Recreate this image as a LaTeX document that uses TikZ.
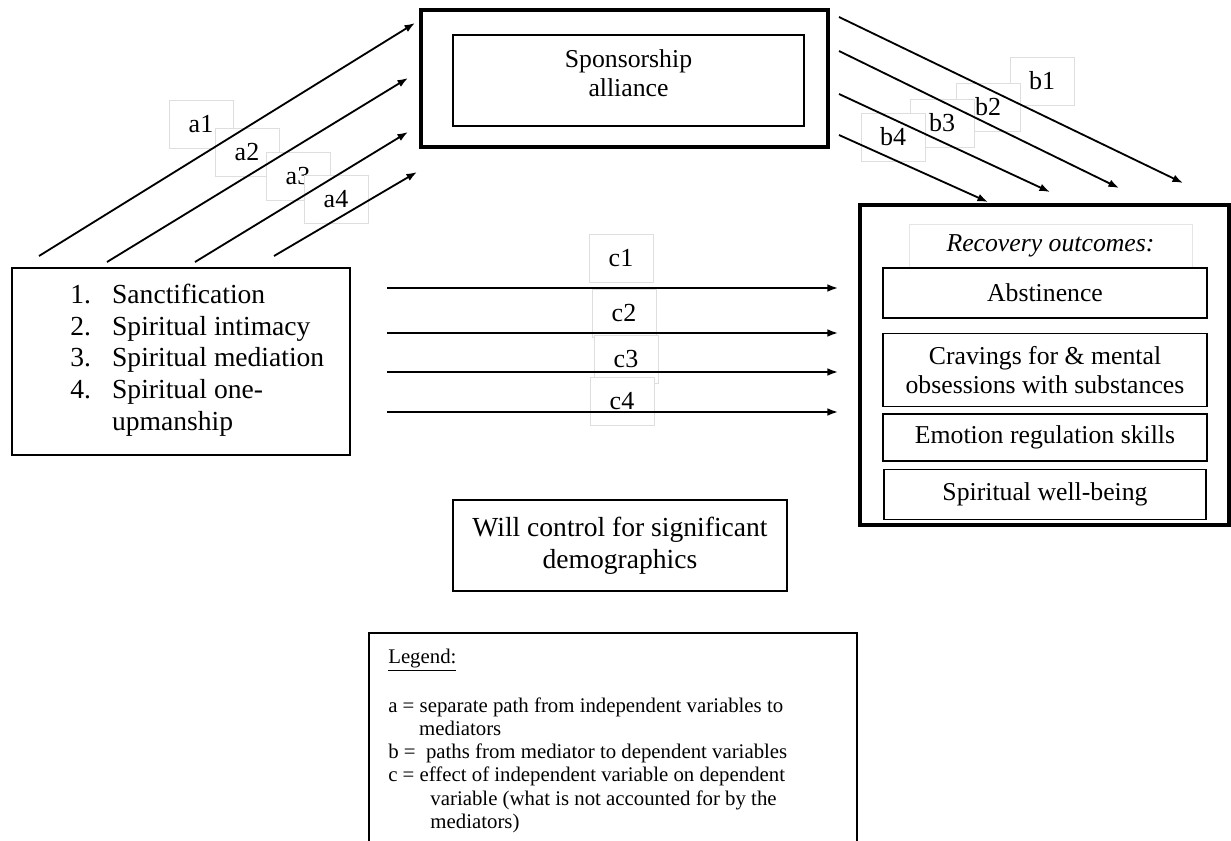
\documentclass[tikz,border=0pt]{standalone}
\usepackage{fontspec}
\setmainfont{Liberation Serif}
\usetikzlibrary{arrows.meta,positioning}

\begin{document}
\begin{tikzpicture}[
  x=0.025cm, y=-0.025cm,
  path_arrow/.style={-{Latex[length=7.5pt,width=5.5pt]}, line width=1.3pt},
  thick_box/.style={draw, line width=3.2pt, inner sep=0pt},
  item_box/.style={draw, line width=1.1pt, text centered, align=center, inner sep=0pt, minimum width=8.1cm, font=\fontsize{18.3}{20.6}\selectfont},
  path_label/.style={draw=black!13, fill=white, line width=0.6pt, minimum width=1.6cm, minimum height=1.2cm, font=\fontsize{18.5}{21}\selectfont} % faint text boxes of the path labels
]

% Page frame
\useasboundingbox (0,0) rectangle (1231,841);

% Mediator
\node[thick_box, minimum width=10.175cm, minimum height=3.425cm] (sponsor) at (624.5,78.5) {};
\node[item_box, minimum width=8.775cm, minimum height=2.275cm, text depth=11pt] (sponsorIn) at (628.5,80.5) {Sponsorship\\alliance};

% Independent variables
\node[draw, line width=1.3pt, minimum width=8.45cm, minimum height=4.675cm] (ivBox) at (181,361.5) {};
\node[anchor=north west, align=left, inner sep=0pt, font=\fontsize{19.6}{22.5}\selectfont] (ivList) at (70,284)
  {\makebox[29.8pt][l]{1.}Sanctification\\
   \makebox[29.8pt][l]{2.}Spiritual intimacy\\
   \makebox[29.8pt][l]{3.}Spiritual mediation\\
   \makebox[29.8pt][l]{4.}Spiritual one-\\
   \hspace*{29.8pt}upmanship};

% Dependent variables
\node[thick_box, minimum width=9.225cm, minimum height=8cm] (outBox) at (1044.5,365) {};
\node[draw=black!10, line width=0.5pt, minimum width=7.075cm, minimum height=1.075cm, font=\itshape\fontsize{18.3}{20.6}\selectfont] (recov) at (1050.5,246) {Recovery outcomes:};
\node[item_box, minimum height=1.25cm] (abst) at (1045,293) {Abstinence};
\node[item_box, minimum height=1.825cm, below=0.35cm of abst] (crav) {Cravings for \& mental\\obsessions with substances};
\node[item_box, minimum height=1.175cm, below=0.15cm of crav] (emot) {Emotion regulation skills};
\node[item_box, minimum height=1.25cm, minimum width=8.05cm, below=0.175cm of emot] (spirit) {Spiritual well-being};

% Covariates
\node[draw, line width=1.3pt, minimum width=8.35cm, minimum height=2.275cm, align=center, font=\fontsize{19.6}{22.7}\selectfont] (control) at (620,545.5) {Will control for significant\\demographics};

% Legend
\node[draw, line width=1.2pt, minimum width=12.2cm, minimum height=5.6cm] (legend) at (613,745) {};
\node[anchor=north west, align=left, inner sep=0pt, font=\fontsize{14.8}{16.5}\selectfont] (legendText) at (388,649)
  {\underline{Legend:}\\[18pt]
   a = separate path from independent variables to\\
   \hspace*{22pt}mediators\\
   b = \ paths from mediator to dependent variables\\
   c = effect of independent variable on dependent\\
   \hspace*{30pt}variable (what is not accounted for by the\\
   \hspace*{30pt}mediators)};

% Path labels
\foreach \name/\px/\py in {a1/201/124, a2/247/152, a3/298/176, a4/336/199,
                           b1/1042/81, b2/988/107, b3/942/123, b4/893/137,
                           c1/621/258, c2/624/313, c3/626/359, c4/622/401}
  \node[path_label] (\name) at (\px,\py) {\name};

% a paths
\foreach \i/\sx/\sy/\ex/\ey in {1/39/256/415/23, 2/107/262/408/78, 3/195/262/408/132, 4/274/256/417/172}{
  \coordinate (a\i s) at (\sx,\sy);
  \coordinate (a\i e) at (\ex,\ey);
  \draw[path_arrow] (a\i s) -- (a\i e);
}

% b paths
\foreach \i/\sx/\sy/\ex/\ey in {1/839/17/1183/183, 2/839/51/1119/188, 3/839/94/1050/192, 4/839/135/988/202}{
  \coordinate (b\i s) at (\sx,\sy);
  \coordinate (b\i e) at (\ex,\ey);
  \draw[path_arrow] (b\i s) -- (b\i e);
}

% c paths
\foreach \i/\y in {1/288, 2/333, 3/372, 4/412}{
  \coordinate (c\i s) at (387,\y);
  \coordinate (c\i e) at (838,\y);
  \draw[path_arrow] (c\i s) -- (c\i e);
}
\end{tikzpicture}
\end{document}
